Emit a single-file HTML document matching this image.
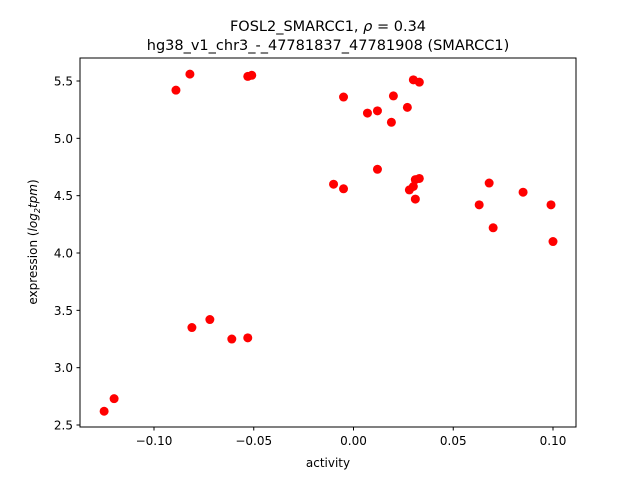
<!DOCTYPE html>
<html><head><meta charset="utf-8"><style>
html,body{margin:0;padding:0;background:#fff;}
svg{display:block;font-family:"DejaVu Sans","Liberation Sans",sans-serif;}
</style></head><body>
<svg id="chart" width="640" height="480" viewBox="0 0 640 480">
<text x="328" y="31" text-anchor="middle" font-size="14.5">FOSL2_SMARCC1, <tspan font-style="italic">ρ</tspan> = 0.34</text>
<text x="328" y="50" text-anchor="middle" font-size="14.5">hg38_v1_chr3_-_47781837_47781908 (SMARCC1)</text>
<rect x="80" y="58" width="496" height="369" fill="none" stroke="#000" stroke-width="1"/>
<g id="xticks"></g>
<g id="yticks"></g>
<g id="points"></g>
<text x="328" y="467" text-anchor="middle" font-size="12">activity</text>
<text transform="translate(37,242) rotate(-90)" text-anchor="middle" font-size="12">expression (<tspan font-style="italic">log</tspan><tspan font-size="8" dy="3" font-style="italic">2</tspan><tspan dy="-3" font-style="italic">tpm</tspan>)</text>
</svg>
<script>
const activity=[-0.125,-0.120,-0.089,-0.082,-0.081,-0.072,-0.061,-0.053,-0.053,-0.051,-0.010,-0.005,-0.005,0.007,0.012,0.012,0.019,0.020,0.027,0.028,0.030,0.031,0.031,0.033,0.030,0.033,0.063,0.068,0.070,0.085,0.099,0.100];
const expression=[2.62,2.73,5.42,5.56,3.35,3.42,3.25,3.26,5.54,5.55,4.60,4.56,5.36,5.22,5.24,4.73,5.14,5.37,5.27,4.55,4.58,4.47,4.64,4.65,5.51,5.49,4.42,4.61,4.22,4.53,4.42,4.10];
const xTicks=[-0.10,-0.05,0.00,0.05,0.10];
const xTickLabels=["−0.10","−0.05","0.00","0.05","0.10"];
const yTicks=[2.5,3.0,3.5,4.0,4.5,5.0,5.5];
const yTickLabels=["2.5","3.0","3.5","4.0","4.5","5.0","5.5"];
const NS="http://www.w3.org/2000/svg";
const xs=v=>353.5+v*1995;
const ys=v=>81+(5.5-v)*114.67;
function mk(t,a){const e=document.createElementNS(NS,t);for(const k in a)e.setAttribute(k,a[k]);return e;}
const gx=document.getElementById('xticks');
xTicks.forEach((v,i)=>{
  const l=mk('line',{x1:xs(v),x2:xs(v),y1:427,y2:430.5,stroke:'#000'});
  
  
  gx.appendChild(l);
  const t=mk('text',{x:xs(v),y:445,'text-anchor':'middle','font-size':'12'});
  
  
  t.textContent=xTickLabels[i];gx.appendChild(t);
});
const gy=document.getElementById('yticks');
yTicks.forEach((v,i)=>{
  const l=mk('line',{x1:76.5,x2:80,y1:ys(v),y2:ys(v),stroke:'#000'});
  
  
  gy.appendChild(l);
  const t=mk('text',{x:73,y:ys(v)+4.5,'text-anchor':'end','font-size':'12'});
  
  
  t.textContent=yTickLabels[i];gy.appendChild(t);
});
const gp=document.getElementById('points');
activity.forEach((v,i)=>{
  const c=mk('circle',{cx:xs(v),cy:ys(expression[i]),r:4.5,fill:'#ff0000'});
  
  
  gp.appendChild(c);
});
</script>
</body></html>
